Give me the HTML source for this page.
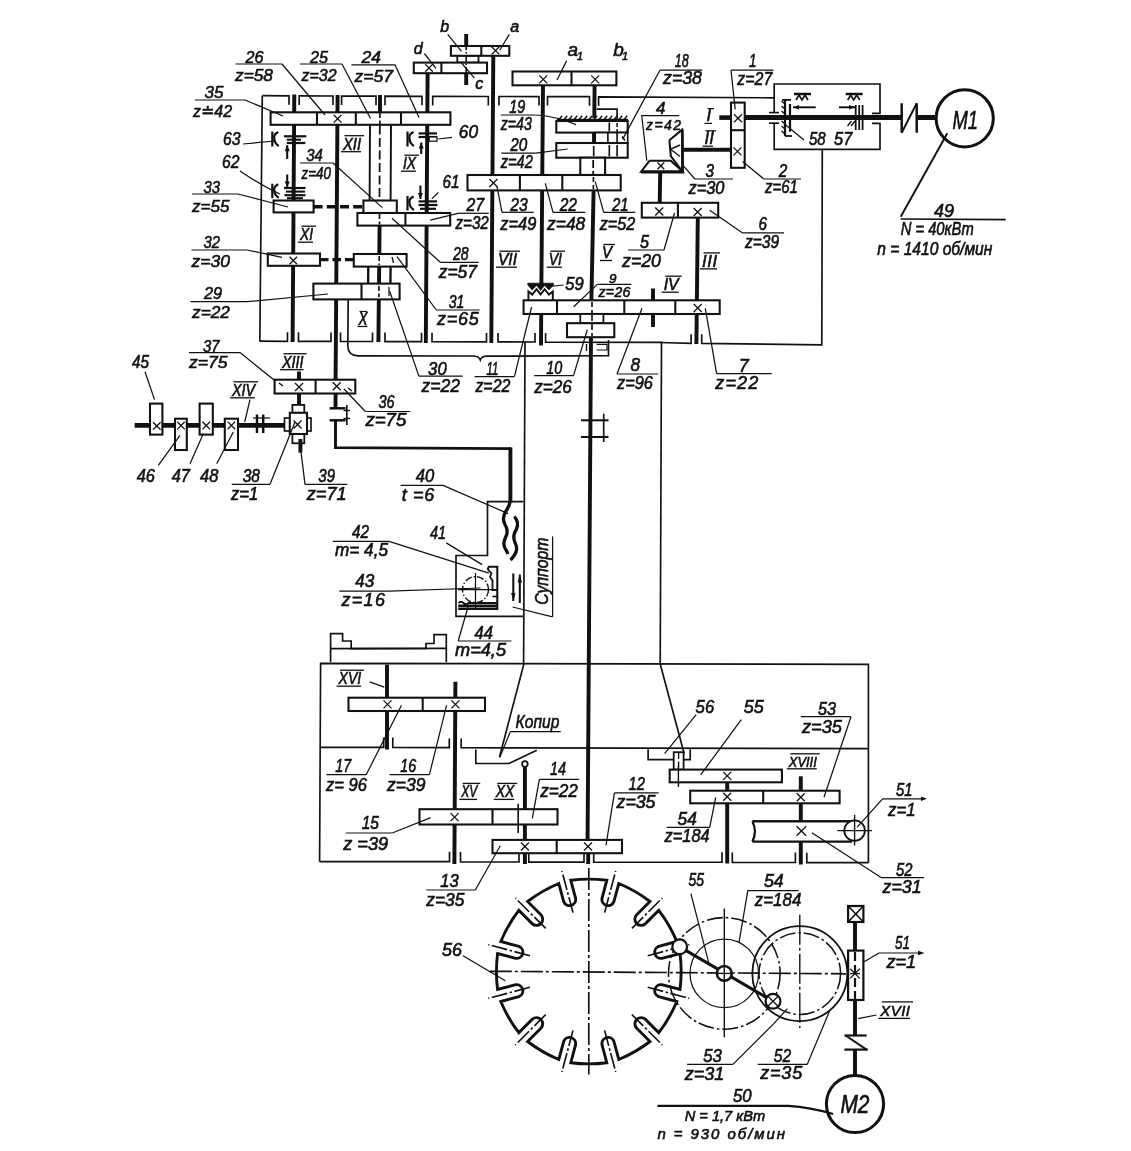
<!DOCTYPE html>
<html lang="ru"><head><meta charset="utf-8"><title>Кинематическая схема</title>
<style>
html,body{margin:0;padding:0;background:#fff;}
svg{display:block;filter:grayscale(1);}
svg text{font-family:"Liberation Sans","DejaVu Sans",sans-serif;font-style:italic;fill:#111;stroke:#111;stroke-width:0.6px;}
</style></head><body>
<svg width="1131" height="1151" viewBox="0 0 1131 1151" stroke="#111" fill="none" stroke-linecap="butt" font-size="16">
<rect x="0" y="0" width="1131" height="1151" fill="#fff" stroke="none"/>
<line x1="262.3" y1="95.7" x2="259.8" y2="341.5" stroke-width="1.66"/>
<polyline points="262.3,95.7 289,95.8 289,104.8" stroke-width="1.66" fill="none"/>
<polyline points="299.2,104.9 299.2,95.9 333,96 333,105" stroke-width="1.66" fill="none"/>
<polyline points="341.6,105 341.6,96 376,96.2 376,105.2" stroke-width="1.66" fill="none"/>
<polyline points="385,105.2 385,96.2 422,96.3 422,105.3" stroke-width="1.66" fill="none"/>
<polyline points="432.7,105.4 432.7,96.4 488.3,96.5 488.3,105.5" stroke-width="1.66" fill="none"/>
<polyline points="499,105.5 499,96.5 539,96.6 539,105.6" stroke-width="1.66" fill="none"/>
<polyline points="547.5,105.6 547.5,96.6 589.5,96.7 589.5,105.7" stroke-width="1.66" fill="none"/>
<polyline points="259.8,341.2 287.5,341.3 287.5,332.3" stroke-width="1.66" fill="none"/>
<polyline points="298.5,332.3 298.5,341.3 331,341.4 331,332.4" stroke-width="1.66" fill="none"/>
<polyline points="340.5,332.4 340.5,341.4 372.5,341.5 372.5,332.5" stroke-width="1.66" fill="none"/>
<polyline points="385,332.6 385,341.6 421.5,341.7 421.5,332.7" stroke-width="1.66" fill="none"/>
<polyline points="432,332.7 432,341.7 486.5,341.9 486.5,332.9" stroke-width="1.66" fill="none"/>
<polyline points="498,332.9 498,341.9 535,342.0 535,333.0" stroke-width="1.66" fill="none"/>
<polyline points="545.6,333.1 545.6,342.1 662,342.4" stroke-width="1.66" fill="none"/>
<line x1="294.3" y1="94.5" x2="292.6" y2="342" stroke-width="3.92"/>
<line x1="337.6" y1="95" x2="335.6" y2="379" stroke-width="3.92"/>
<line x1="380.0" y1="95" x2="380.0" y2="113" stroke-width="3.92"/>
<line x1="379.6" y1="225" x2="378.4" y2="342" stroke-width="3.92"/>
<line x1="427.6" y1="74" x2="425.8" y2="343" stroke-width="3.92"/>
<line x1="493.3" y1="56" x2="491.3" y2="343" stroke-width="3.92"/>
<line x1="370" y1="124" x2="369.6" y2="201" stroke-width="1.93"/>
<line x1="391" y1="124" x2="390.6" y2="201" stroke-width="1.93"/>
<line x1="379.9" y1="113" x2="379.3" y2="232" stroke-width="1.79" stroke-dasharray="9 3.5"/>
<line x1="368.3" y1="266" x2="368.1" y2="285" stroke-width="2.35"/>
<line x1="390.6" y1="266" x2="390.4" y2="285" stroke-width="2.35"/>
<rect x="270.6" y="112.3" width="179.8" height="12.5" stroke-width="2.07" fill="#fff"/>
<line x1="317" y1="112.3" x2="317" y2="124.8" stroke-width="2.07"/>
<line x1="355.8" y1="112.3" x2="355.8" y2="124.8" stroke-width="2.07"/>
<line x1="401" y1="112.3" x2="401" y2="124.8" stroke-width="2.07"/>
<line x1="333.8" y1="115.0" x2="341.40000000000003" y2="122.6" stroke-width="1.31"/>
<line x1="333.8" y1="122.6" x2="341.40000000000003" y2="115.0" stroke-width="1.31"/>
<line x1="379.9" y1="113" x2="379.9" y2="124" stroke-width="1.66" stroke-dasharray="5 2.5"/>
<rect x="273.6" y="200.5" width="40.0" height="11.9" stroke-width="2.07" fill="#fff"/>
<rect x="363.4" y="200.5" width="33.4" height="12.5" stroke-width="2.07" fill="#fff"/>
<rect x="357.4" y="213" width="92.8" height="12.6" stroke-width="2.07" fill="#fff"/>
<line x1="405.4" y1="213" x2="405.4" y2="225.6" stroke-width="2.07"/>
<line x1="379.5" y1="214" x2="379.5" y2="224.5" stroke-width="1.66" stroke-dasharray="5 2.5"/>
<rect x="267.8" y="253.5" width="52.2" height="12.3" stroke-width="2.07" fill="#fff"/>
<line x1="289.5" y1="256.7" x2="297.1" y2="264.3" stroke-width="1.31"/>
<line x1="289.5" y1="264.3" x2="297.1" y2="256.7" stroke-width="1.31"/>
<rect x="353.8" y="254" width="52.8" height="12.6" stroke-width="2.07" fill="#fff"/>
<line x1="379.2" y1="256" x2="379.2" y2="265" stroke-width="1.66" stroke-dasharray="5 2.5"/>
<line x1="392" y1="257" x2="393.5" y2="263" stroke-width="1.24"/>
<rect x="313.4" y="283.6" width="86.2" height="15.8" stroke-width="2.07" fill="#fff"/>
<line x1="361.5" y1="283.6" x2="361.5" y2="299.4" stroke-width="2.07"/>
<line x1="378.9" y1="286" x2="378.9" y2="297" stroke-width="1.66" stroke-dasharray="5 2.5"/>
<line x1="389" y1="287" x2="389" y2="296" stroke-width="1.24"/>
<line x1="313.6" y1="206.7" x2="363.4" y2="206.7" stroke-width="3.36" stroke-dasharray="9 4.2"/>
<line x1="320" y1="259.6" x2="353.8" y2="259.6" stroke-width="3.36" stroke-dasharray="8.5 4"/>
<line x1="272.3" y1="131.5" x2="272.3" y2="146.5" stroke-width="2.21"/>
<path d="M278.3,132.0 Q273.3,134.5 274.3,138.25 Q274.3,143.5 278.8,146.0" stroke-width="2.21" fill="none"/>
<line x1="284" y1="136.3" x2="306.3" y2="136.3" stroke-width="2.21"/>
<line x1="286.8" y1="139.7" x2="301" y2="139.7" stroke-width="2.07"/>
<line x1="286.8" y1="143" x2="305.4" y2="143" stroke-width="2.21"/>
<line x1="287.2" y1="159" x2="287.2" y2="145.3" stroke-width="2.07"/>
<polygon points="287.2,145.3 284.7,151.3 289.7,151.3" fill="#111" stroke="none"/>
<line x1="272.3" y1="183.7" x2="272.3" y2="198.2" stroke-width="2.21"/>
<path d="M278.3,184.2 Q273.3,186.7 274.3,190.225 Q274.3,195.2 278.8,197.7" stroke-width="2.21" fill="none"/>
<line x1="284" y1="188" x2="305.5" y2="188" stroke-width="2.21"/>
<line x1="286" y1="191.6" x2="305" y2="191.6" stroke-width="2.07"/>
<line x1="284.5" y1="195.2" x2="305.5" y2="195.2" stroke-width="2.21"/>
<line x1="287" y1="198.2" x2="303" y2="198.2" stroke-width="2.07"/>
<line x1="287.2" y1="174.5" x2="287.2" y2="187.4" stroke-width="2.07"/>
<polygon points="287.2,187.4 284.7,181.4 289.7,181.4" fill="#111" stroke="none"/>
<line x1="407.5" y1="131.5" x2="407.5" y2="146.5" stroke-width="2.21"/>
<path d="M413.5,132.0 Q408.5,134.5 409.5,138.25 Q409.5,143.5 414,146.0" stroke-width="2.21" fill="none"/>
<line x1="418.6" y1="133.4" x2="437" y2="133.4" stroke-width="2.21"/>
<line x1="418.6" y1="137" x2="437" y2="137" stroke-width="2.21"/>
<rect x="429.2" y="137" width="7.8" height="4.2" stroke-width="1.24" fill="#fff"/>
<line x1="421.2" y1="154" x2="421.2" y2="142.5" stroke-width="2.07"/>
<polygon points="421.2,142.5 418.7,148.5 423.7,148.5" fill="#111" stroke="none"/>
<line x1="407.5" y1="196" x2="407.5" y2="210.5" stroke-width="2.21"/>
<path d="M413.5,196.5 Q408.5,199 409.5,202.525 Q409.5,207.5 414,210.0" stroke-width="2.21" fill="none"/>
<line x1="418.6" y1="201.4" x2="437" y2="201.4" stroke-width="2.21"/>
<line x1="418.6" y1="205" x2="437.5" y2="205" stroke-width="2.21"/>
<line x1="420" y1="208.8" x2="436" y2="208.8" stroke-width="2.21"/>
<line x1="420.4" y1="185.5" x2="420.4" y2="199" stroke-width="2.07"/>
<polygon points="420.4,199 417.9,193 422.9,193" fill="#111" stroke="none"/>
<path d="M348.2,299.5 L347.8,346 Q348,355.6 358,355.8 L474,356 Q479,356.3 480.3,360 Q481.5,356.3 487,356.2 L608.5,355.6 L608.5,340" stroke-width="1.66" fill="none"/>
<text x="245.5" y="62.5" textLength="18" lengthAdjust="spacingAndGlyphs" font-size="17">26</text>
<text x="235" y="81" textLength="38" lengthAdjust="spacingAndGlyphs" font-size="17">z=58</text>
<line x1="235.5" y1="64" x2="282" y2="64" stroke-width="1.24"/>
<polyline points="282,64 325,115" stroke-width="1.24" fill="none"/>
<text x="310" y="62.5" textLength="18" lengthAdjust="spacingAndGlyphs" font-size="17">25</text>
<text x="301.5" y="81" textLength="35" lengthAdjust="spacingAndGlyphs" font-size="17">z=32</text>
<line x1="300" y1="64" x2="342" y2="64" stroke-width="1.24"/>
<polyline points="342,64 370.5,118.5" stroke-width="1.24" fill="none"/>
<text x="361.5" y="63" textLength="19.5" lengthAdjust="spacingAndGlyphs" font-size="17">24</text>
<text x="354.5" y="81.5" textLength="38.5" lengthAdjust="spacingAndGlyphs" font-size="17">z=57</text>
<line x1="351.5" y1="64.8" x2="395" y2="64.8" stroke-width="1.24"/>
<polyline points="395,64.8 419,117.5" stroke-width="1.24" fill="none"/>
<text x="204.5" y="98" textLength="19" lengthAdjust="spacingAndGlyphs" font-size="17">35</text>
<text x="193" y="117" textLength="39" lengthAdjust="spacingAndGlyphs" font-size="17">z≐42</text>
<line x1="195" y1="100" x2="245" y2="100" stroke-width="1.24"/>
<polyline points="245,100 283,116" stroke-width="1.24" fill="none"/>
<text x="223" y="145.2" textLength="17.5" lengthAdjust="spacingAndGlyphs" font-size="19">63</text>
<line x1="243" y1="144" x2="275" y2="141" stroke-width="1.24"/>
<text x="222" y="168.2" textLength="17.5" lengthAdjust="spacingAndGlyphs" font-size="19">62</text>
<path d="M240,171 Q262,186 280,194" stroke-width="1.24" fill="none"/>
<text x="306.3" y="161" textLength="16.5" lengthAdjust="spacingAndGlyphs" font-size="17">34</text>
<text x="301.5" y="178.6" textLength="29.5" lengthAdjust="spacingAndGlyphs" font-size="17">z=40</text>
<line x1="300" y1="163" x2="333" y2="163" stroke-width="1.24"/>
<polyline points="333,163 382.3,207.6" stroke-width="1.24" fill="none"/>
<text x="203.5" y="192.5" textLength="16.5" lengthAdjust="spacingAndGlyphs" font-size="17">33</text>
<text x="192" y="211.5" textLength="37.5" lengthAdjust="spacingAndGlyphs" font-size="17">z=55</text>
<line x1="192" y1="194" x2="238" y2="194" stroke-width="1.24"/>
<polyline points="238,194 288,207" stroke-width="1.24" fill="none"/>
<text x="203.5" y="248" textLength="16.5" lengthAdjust="spacingAndGlyphs" font-size="17">32</text>
<text x="191.5" y="266.5" textLength="38.5" lengthAdjust="spacingAndGlyphs" font-size="17">z=30</text>
<line x1="191.5" y1="250" x2="247" y2="250" stroke-width="1.24"/>
<polyline points="247,250 282,257.3" stroke-width="1.24" fill="none"/>
<text x="204" y="298.5" textLength="18" lengthAdjust="spacingAndGlyphs" font-size="17">29</text>
<text x="192" y="318" textLength="38" lengthAdjust="spacingAndGlyphs" font-size="17">z=22</text>
<line x1="190.5" y1="301.7" x2="247" y2="301.7" stroke-width="1.24"/>
<polyline points="247,301.7 328,294" stroke-width="1.24" fill="none"/>
<text x="203" y="351.5" textLength="16.5" lengthAdjust="spacingAndGlyphs" font-size="17">37</text>
<text x="189" y="368" textLength="38.5" lengthAdjust="spacingAndGlyphs" font-size="17">z=75</text>
<line x1="189" y1="352.6" x2="240" y2="352.6" stroke-width="1.24"/>
<polyline points="240,352.6 281.8,386.3" stroke-width="1.24" fill="none"/>
<text x="343" y="149.5" textLength="18" lengthAdjust="spacingAndGlyphs" font-size="16.5">XII</text>
<line x1="344.5" y1="135.7" x2="364" y2="135.7" stroke-width="1.31"/>
<line x1="341" y1="151.7" x2="361" y2="151.7" stroke-width="1.31"/>
<text x="403" y="169" textLength="13" lengthAdjust="spacingAndGlyphs" font-size="16.5">IX</text>
<line x1="404.5" y1="155.2" x2="419" y2="155.2" stroke-width="1.31"/>
<line x1="401" y1="171.2" x2="416" y2="171.2" stroke-width="1.31"/>
<text x="300" y="240" textLength="13" lengthAdjust="spacingAndGlyphs" font-size="16.5">XI</text>
<line x1="301.5" y1="226.2" x2="316" y2="226.2" stroke-width="1.31"/>
<line x1="298" y1="242.2" x2="313" y2="242.2" stroke-width="1.31"/>
<text x="282" y="367.5" textLength="21.5" lengthAdjust="spacingAndGlyphs" font-size="16.5">XIII</text>
<line x1="283.5" y1="353.7" x2="306.5" y2="353.7" stroke-width="1.31"/>
<line x1="280" y1="369.7" x2="303.5" y2="369.7" stroke-width="1.31"/>
<text x="358.5" y="325" textLength="9" lengthAdjust="spacingAndGlyphs" font-size="18">X</text>
<line x1="359.5" y1="311.5" x2="367" y2="311.5" stroke-width="1.24"/>
<line x1="357.5" y1="326.5" x2="367.5" y2="326.5" stroke-width="1.24"/>
<polyline points="598.6,106 598.6,96.8 774,97.8" stroke-width="1.66" fill="none"/>
<line x1="466.2" y1="34" x2="466.2" y2="46" stroke-width="3.92"/>
<line x1="466.2" y1="73" x2="466.2" y2="85" stroke-width="3.92"/>
<line x1="466.2" y1="46" x2="466.2" y2="73" stroke-width="1.66" stroke-dasharray="6 2 1.5 2"/>
<line x1="543.0" y1="85" x2="541.4" y2="284" stroke-width="3.92"/>
<line x1="541.2" y1="314" x2="541" y2="345.5" stroke-width="3.92"/>
<line x1="594.6" y1="85" x2="594.3" y2="118" stroke-width="3.92"/>
<line x1="593.6" y1="190" x2="591.4" y2="300" stroke-width="3.92"/>
<rect x="457.3" y="55.6" width="21.2" height="7.0" stroke-width="1.79" fill="#fff"/>
<rect x="450.9" y="46" width="58.4" height="9.8" stroke-width="2.07" fill="#fff"/>
<line x1="481.3" y1="46" x2="481.3" y2="55.8" stroke-width="2.07"/>
<line x1="491.7" y1="46.800000000000004" x2="499.3" y2="54.4" stroke-width="1.31"/>
<line x1="491.7" y1="54.4" x2="499.3" y2="46.800000000000004" stroke-width="1.31"/>
<rect x="413.8" y="62.6" width="73.2" height="10.6" stroke-width="2.07" fill="#fff"/>
<line x1="441.4" y1="62.6" x2="441.4" y2="73.2" stroke-width="2.07"/>
<line x1="425.2" y1="64.10000000000001" x2="432.8" y2="71.7" stroke-width="1.31"/>
<line x1="425.2" y1="71.7" x2="432.8" y2="64.10000000000001" stroke-width="1.31"/>
<line x1="466.2" y1="44" x2="466.2" y2="75" stroke-width="1.66" stroke-dasharray="6 2 1.5 2"/>
<rect x="512.5" y="71.5" width="103.9" height="13.8" stroke-width="2.07" fill="#fff"/>
<line x1="571.5" y1="71.5" x2="571.5" y2="85.3" stroke-width="2.07"/>
<line x1="539.2" y1="75.4" x2="547.2" y2="83.4" stroke-width="1.31"/>
<line x1="539.2" y1="83.4" x2="547.2" y2="75.4" stroke-width="1.31"/>
<line x1="591.2" y1="75.4" x2="599.2" y2="83.4" stroke-width="1.31"/>
<line x1="591.2" y1="83.4" x2="599.2" y2="75.4" stroke-width="1.31"/>
<polyline points="596.6,109.1 617.1,109.1 617.1,119.7" stroke-width="1.66" fill="none"/>
<line x1="557" y1="119.7" x2="628" y2="119.7" stroke-width="1.79"/>
<line x1="559" y1="119.5" x2="562.2" y2="115.8" stroke-width="1.38"/>
<line x1="564" y1="119.5" x2="567.2" y2="115.8" stroke-width="1.38"/>
<line x1="569" y1="119.5" x2="572.2" y2="115.8" stroke-width="1.38"/>
<line x1="574" y1="119.5" x2="577.2" y2="115.8" stroke-width="1.38"/>
<line x1="579" y1="119.5" x2="582.2" y2="115.8" stroke-width="1.38"/>
<line x1="584" y1="119.5" x2="587.2" y2="115.8" stroke-width="1.38"/>
<line x1="589" y1="119.5" x2="592.2" y2="115.8" stroke-width="1.38"/>
<line x1="594" y1="119.5" x2="597.2" y2="115.8" stroke-width="1.38"/>
<line x1="599" y1="119.5" x2="602.2" y2="115.8" stroke-width="1.38"/>
<line x1="604" y1="119.5" x2="607.2" y2="115.8" stroke-width="1.38"/>
<line x1="609" y1="119.5" x2="612.2" y2="115.8" stroke-width="1.38"/>
<line x1="614" y1="119.5" x2="617.2" y2="115.8" stroke-width="1.38"/>
<line x1="619" y1="119.5" x2="622.2" y2="115.8" stroke-width="1.38"/>
<line x1="624" y1="119.5" x2="627.2" y2="115.8" stroke-width="1.38"/>
<rect x="556.3" y="121" width="71.4" height="11.6" stroke-width="2.07" fill="#fff"/>
<rect x="595.2" y="132.6" width="32.5" height="10.4" stroke-width="1.66" fill="#fff"/>
<rect x="556.3" y="143" width="71.4" height="14.7" stroke-width="2.07" fill="#fff"/>
<line x1="607.9" y1="132.6" x2="607.9" y2="143" stroke-width="1.66"/>
<line x1="617.1" y1="132.6" x2="617.1" y2="143" stroke-width="1.66"/>
<line x1="609.3" y1="122.5" x2="609.3" y2="131.5" stroke-width="1.66"/>
<line x1="617.1" y1="123" x2="617.1" y2="132" stroke-width="1.52" stroke-dasharray="4 2"/>
<line x1="593.7" y1="146" x2="593.7" y2="156" stroke-width="1.66"/>
<line x1="609.3" y1="145" x2="609.3" y2="156.5" stroke-width="1.66"/>
<line x1="617.1" y1="145" x2="617.1" y2="156.5" stroke-width="1.66"/>
<line x1="594" y1="132.6" x2="594" y2="143" stroke-width="3.92"/>
<line x1="622" y1="136.5" x2="625" y2="140.5" stroke-width="1.38"/>
<rect x="580.3" y="157.7" width="24.8" height="17.3" stroke-width="2.07" fill="#fff"/>
<line x1="593.2" y1="160" x2="593.2" y2="174" stroke-width="1.79" stroke-dasharray="8 3"/>
<rect x="467.5" y="175" width="153.2" height="15.4" stroke-width="2.07" fill="#fff"/>
<line x1="519.9" y1="175" x2="519.9" y2="190.4" stroke-width="2.07"/>
<line x1="562.3" y1="175" x2="562.3" y2="190.4" stroke-width="2.07"/>
<line x1="489.4" y1="179.0" x2="497.4" y2="187.0" stroke-width="1.31"/>
<line x1="489.4" y1="187.0" x2="497.4" y2="179.0" stroke-width="1.31"/>
<line x1="593.4" y1="177" x2="593.4" y2="189" stroke-width="1.66" stroke-dasharray="5 3"/>
<polyline points="669.4,140.2 682.1,129.6 682.5,171.5 670.8,156 669.4,140.2" stroke-width="2.07" fill="#fff"/>
<line x1="682.3" y1="129.6" x2="682.6" y2="171.5" stroke-width="2.76"/>
<line x1="671" y1="149" x2="680" y2="145" stroke-width="1.38"/>
<line x1="671" y1="149.5" x2="680" y2="156.5" stroke-width="1.38"/>
<polyline points="649.6,160.7 670.8,160.7 682.5,171.6 641.1,171.6 649.6,160.7" stroke-width="2.07" fill="#fff"/>
<line x1="641.1" y1="172" x2="682.5" y2="172" stroke-width="3.04"/>
<line x1="657.5" y1="162.5" x2="664.3" y2="169.3" stroke-width="1.31"/>
<line x1="657.5" y1="169.3" x2="664.3" y2="162.5" stroke-width="1.31"/>
<line x1="660.2" y1="172.7" x2="659.7" y2="203" stroke-width="3.92"/>
<rect x="641.8" y="202.8" width="76.4" height="14.8" stroke-width="2.07" fill="#fff"/>
<line x1="677.9" y1="202.8" x2="677.9" y2="217.6" stroke-width="2.07"/>
<line x1="655.2" y1="207.5" x2="663.2" y2="215.5" stroke-width="1.31"/>
<line x1="655.2" y1="215.5" x2="663.2" y2="207.5" stroke-width="1.31"/>
<line x1="693.6" y1="208.0" x2="701.6" y2="216.0" stroke-width="1.31"/>
<line x1="693.6" y1="216.0" x2="701.6" y2="208.0" stroke-width="1.31"/>
<line x1="697.8" y1="217.6" x2="696.4" y2="344" stroke-width="3.92"/>
<line x1="719.3" y1="117.6" x2="731" y2="117.6" stroke-width="4.59"/>
<line x1="683.2" y1="149.8" x2="731" y2="149.8" stroke-width="3.92"/>
<rect x="731" y="102.6" width="13.7" height="65.2" stroke-width="2.07" fill="#fff"/>
<line x1="731" y1="130.2" x2="744.7" y2="130.2" stroke-width="2.07"/>
<line x1="734.0" y1="114.3" x2="742.0" y2="122.3" stroke-width="1.31"/>
<line x1="734.0" y1="122.3" x2="742.0" y2="114.3" stroke-width="1.31"/>
<line x1="733.5" y1="147.4" x2="741.5" y2="155.4" stroke-width="1.31"/>
<line x1="733.5" y1="155.4" x2="741.5" y2="147.4" stroke-width="1.31"/>
<polygon points="527.8,283.2 553.4,283.2 553.4,285 548.9,290 544.7,285.2 540.6,290.4 536.5,285.2 532.3,290 527.8,285" fill="#111" stroke="#111" stroke-width="0.8" stroke-linejoin="round"/>
<polyline points="528.4,300 528.4,291.5 532.3,294.6 536.5,289.2 540.6,294.4 544.7,289.2 548.9,294.6 552.8,291.5 552.8,300" stroke-width="1.93" fill="none"/>
<line x1="653" y1="288.5" x2="653" y2="327" stroke-width="3.92"/>
<rect x="523.6" y="300.3" width="196.1" height="13.7" stroke-width="2.07" fill="#fff"/>
<line x1="557" y1="300.3" x2="557" y2="314" stroke-width="2.07"/>
<line x1="624.3" y1="300.3" x2="624.3" y2="314" stroke-width="2.07"/>
<line x1="675.3" y1="300.3" x2="675.3" y2="314" stroke-width="2.07"/>
<line x1="693.7" y1="304.0" x2="701.7" y2="312.0" stroke-width="1.31"/>
<line x1="693.7" y1="312.0" x2="701.7" y2="304.0" stroke-width="1.31"/>
<line x1="592" y1="302" x2="592" y2="313" stroke-width="1.66" stroke-dasharray="5 3"/>
<rect x="580.3" y="314" width="23.1" height="9.2" stroke-width="1.79" fill="#fff"/>
<rect x="567" y="323.2" width="47.3" height="14.0" stroke-width="2.07" fill="#fff"/>
<line x1="592" y1="315" x2="592" y2="336" stroke-width="1.66" stroke-dasharray="6 3"/>
<line x1="591" y1="337.2" x2="587.5" y2="850" stroke-width="3.92"/>
<polyline points="596.6,344.3 607,344.3 607,350 596.6,350" stroke-width="1.24" fill="none"/>
<line x1="586.5" y1="344" x2="586.5" y2="351" stroke-width="1.38"/>
<polyline points="660,342.5 691.1,343.3 691.1,334.3" stroke-width="1.66" fill="none"/>
<polyline points="701.7,334.3 701.7,343.4 821.8,344.8 822.3,149" stroke-width="1.66" fill="none"/>
<line x1="525" y1="342" x2="523.6" y2="664" stroke-width="1.66"/>
<line x1="661.5" y1="343" x2="660.2" y2="664" stroke-width="1.66"/>
<text x="440.3" y="31.5">b</text>
<text x="510.3" y="31.5">a</text>
<text x="413.8" y="53.5">d</text>
<text x="475.3" y="88.5">c</text>
<line x1="447.7" y1="34.4" x2="461.5" y2="51.4" stroke-width="1.24"/>
<line x1="509.3" y1="34.4" x2="499.7" y2="50.3" stroke-width="1.24"/>
<line x1="424.4" y1="53.5" x2="436" y2="68.4" stroke-width="1.24"/>
<line x1="474.3" y1="77.9" x2="461.5" y2="63" stroke-width="1.24"/>
<text x="567.6" y="55.6" font-size="19">a</text>
<text x="577" y="59.5" font-size="11">1</text>
<text x="613.3" y="55.6" font-size="19">b</text>
<text x="622" y="59.5" font-size="11">1</text>
<line x1="566.6" y1="60.9" x2="557" y2="80" stroke-width="1.24"/>
<text x="509.3" y="113" textLength="16" lengthAdjust="spacingAndGlyphs" font-size="18">19</text>
<text x="500.8" y="130" textLength="31" lengthAdjust="spacingAndGlyphs" font-size="18">z=43</text>
<line x1="500.8" y1="115" x2="535.8" y2="115" stroke-width="1.24"/>
<path d="M535.8,115 Q556,116 576,124.6" stroke-width="1.24" fill="none"/>
<text x="510.3" y="151.2" textLength="17" lengthAdjust="spacingAndGlyphs" font-size="18">20</text>
<text x="500.8" y="168.2" textLength="32" lengthAdjust="spacingAndGlyphs" font-size="18">z=42</text>
<line x1="501.4" y1="153.2" x2="535.8" y2="153.2" stroke-width="1.24"/>
<polyline points="535.8,153.2 567.6,149" stroke-width="1.24" fill="none"/>
<text x="458.8" y="138.3" textLength="19.2" lengthAdjust="spacingAndGlyphs" font-size="19">60</text>
<line x1="452" y1="137.3" x2="438.2" y2="139" stroke-width="1.24"/>
<text x="442.5" y="188" textLength="17" lengthAdjust="spacingAndGlyphs" font-size="19">61</text>
<line x1="438.2" y1="192.5" x2="431.8" y2="198.9" stroke-width="1.24"/>
<text x="466.2" y="211.2" textLength="18" lengthAdjust="spacingAndGlyphs" font-size="18">27</text>
<text x="455.5" y="229.2" textLength="33.3" lengthAdjust="spacingAndGlyphs" font-size="18">z=32</text>
<line x1="458" y1="213.3" x2="488.8" y2="213.3" stroke-width="1.24"/>
<polyline points="458,213.3 430.3,220.2" stroke-width="1.24" fill="none"/>
<text x="674.7" y="67" textLength="14" lengthAdjust="spacingAndGlyphs" font-size="18">18</text>
<text x="663" y="84" textLength="39" lengthAdjust="spacingAndGlyphs" font-size="18">z=38</text>
<line x1="659.9" y1="70.2" x2="702.3" y2="70.2" stroke-width="1.24"/>
<polyline points="659.9,70.2 622.7,139.1" stroke-width="1.24" fill="none"/>
<text x="749" y="67" textLength="7.5" lengthAdjust="spacingAndGlyphs" font-size="18">1</text>
<text x="737.3" y="85" textLength="35" lengthAdjust="spacingAndGlyphs" font-size="18">z=27</text>
<line x1="731" y1="70.2" x2="773.4" y2="70.2" stroke-width="1.24"/>
<polyline points="731,70.2 735.2,109.4" stroke-width="1.24" fill="none"/>
<text x="656" y="113.5" textLength="9.5" lengthAdjust="spacingAndGlyphs" font-size="17">4</text>
<text x="646.1" y="129.6" textLength="35" lengthAdjust="spacing" font-size="14">z=42</text>
<line x1="641.1" y1="115.7" x2="679.3" y2="115.7" stroke-width="1.24"/>
<polyline points="641.8,116.2 646.8,160.7" stroke-width="1.24" fill="none"/>
<text x="706.6" y="121.3" font-size="16.5">I</text>
<line x1="704.5" y1="123.4" x2="712" y2="123.4" stroke-width="1.24"/>
<line x1="707.5" y1="108.6" x2="714" y2="108.6" stroke-width="1.24"/>
<text x="704.4" y="144.4" textLength="9.5" lengthAdjust="spacingAndGlyphs" font-size="18">II</text>
<line x1="705.5" y1="130.8" x2="716" y2="130.8" stroke-width="1.24"/>
<line x1="702.5" y1="146.2" x2="713" y2="146.2" stroke-width="1.24"/>
<text x="705.5" y="177.3" textLength="8.5" lengthAdjust="spacingAndGlyphs" font-size="18">3</text>
<text x="688.5" y="194.3" textLength="36" lengthAdjust="spacingAndGlyphs" font-size="18">z=30</text>
<line x1="694.9" y1="179" x2="733" y2="179" stroke-width="1.24"/>
<polyline points="694.9,179 683.2,165.6" stroke-width="1.24" fill="none"/>
<text x="778.7" y="177.3" textLength="8.5" lengthAdjust="spacingAndGlyphs" font-size="18">2</text>
<text x="764.9" y="193.2" textLength="33" lengthAdjust="spacingAndGlyphs" font-size="18">z=61</text>
<line x1="763.8" y1="179" x2="801" y2="179" stroke-width="1.24"/>
<polyline points="763.8,179 742.6,161.4" stroke-width="1.24" fill="none"/>
<text x="758.5" y="230.4" textLength="8.5" lengthAdjust="spacingAndGlyphs" font-size="18">6</text>
<text x="745" y="248.3" textLength="34" lengthAdjust="spacingAndGlyphs" font-size="18">z=39</text>
<line x1="742.6" y1="232.9" x2="784" y2="232.9" stroke-width="1.24"/>
<polyline points="742.6,232.9 709.7,210.2" stroke-width="1.24" fill="none"/>
<text x="612" y="210.7" textLength="16.7" lengthAdjust="spacingAndGlyphs" font-size="18">21</text>
<text x="599.7" y="230" textLength="35.6" lengthAdjust="spacingAndGlyphs" font-size="18">z=52</text>
<line x1="603.7" y1="212.3" x2="635.3" y2="212.3" stroke-width="1.24"/>
<polyline points="603.7,212.3 595.3,181.7" stroke-width="1.24" fill="none"/>
<text x="559.7" y="210.7" textLength="17.3" lengthAdjust="spacingAndGlyphs" font-size="18">22</text>
<text x="547" y="230" textLength="38.3" lengthAdjust="spacingAndGlyphs" font-size="18">z=48</text>
<line x1="553" y1="212.3" x2="585.3" y2="212.3" stroke-width="1.24"/>
<polyline points="553,212.3 545.3,183.3" stroke-width="1.24" fill="none"/>
<text x="510.3" y="210.7" textLength="17.4" lengthAdjust="spacingAndGlyphs" font-size="18">23</text>
<text x="500.3" y="230" textLength="36" lengthAdjust="spacingAndGlyphs" font-size="18">z=49</text>
<line x1="502" y1="212.3" x2="533.7" y2="212.3" stroke-width="1.24"/>
<polyline points="502,212.3 497,186.7" stroke-width="1.24" fill="none"/>
<text x="453" y="260" textLength="15.7" lengthAdjust="spacingAndGlyphs" font-size="18">28</text>
<text x="438.7" y="278.3" textLength="38.3" lengthAdjust="spacingAndGlyphs" font-size="18">z=57</text>
<line x1="440.3" y1="262.3" x2="478.7" y2="262.3" stroke-width="1.24"/>
<polyline points="440.3,262.3 392,218.3" stroke-width="1.24" fill="none"/>
<text x="448.7" y="308.3" textLength="15.6" lengthAdjust="spacingAndGlyphs" font-size="18">31</text>
<text x="437" y="325" textLength="41.7" lengthAdjust="spacing" font-size="18">z=65</text>
<line x1="436.3" y1="310" x2="479.7" y2="310" stroke-width="1.24"/>
<polyline points="436.3,310 397,256.7" stroke-width="1.24" fill="none"/>
<text x="640" y="247.5" textLength="9" lengthAdjust="spacingAndGlyphs" font-size="18">5</text>
<text x="622" y="267" textLength="39" lengthAdjust="spacingAndGlyphs" font-size="18">z=20</text>
<line x1="628" y1="250" x2="664" y2="250" stroke-width="1.24"/>
<polyline points="664,250 674.5,213" stroke-width="1.24" fill="none"/>
<text x="498" y="265" textLength="19" lengthAdjust="spacingAndGlyphs" font-size="16.5">VII</text>
<line x1="499.5" y1="251.2" x2="520" y2="251.2" stroke-width="1.31"/>
<line x1="496" y1="267.2" x2="517" y2="267.2" stroke-width="1.31"/>
<text x="548.7" y="265" textLength="13.3" lengthAdjust="spacingAndGlyphs" font-size="16.5">VI</text>
<line x1="550.2" y1="251.2" x2="565.0" y2="251.2" stroke-width="1.31"/>
<line x1="546.7" y1="267.2" x2="562.0" y2="267.2" stroke-width="1.31"/>
<text x="602" y="258.3" textLength="10" lengthAdjust="spacingAndGlyphs" font-size="16.5">V</text>
<line x1="603.5" y1="244.5" x2="615" y2="244.5" stroke-width="1.31"/>
<line x1="600" y1="260.5" x2="612" y2="260.5" stroke-width="1.31"/>
<text x="702" y="266.7" textLength="15" lengthAdjust="spacing" font-size="16.5">III</text>
<line x1="703.5" y1="252.89999999999998" x2="720" y2="252.89999999999998" stroke-width="1.31"/>
<line x1="700" y1="268.9" x2="717" y2="268.9" stroke-width="1.31"/>
<text x="663.7" y="290" textLength="15" lengthAdjust="spacingAndGlyphs" font-size="16.5">IV</text>
<line x1="665.2" y1="276.2" x2="681.7" y2="276.2" stroke-width="1.31"/>
<line x1="661.7" y1="292.2" x2="678.7" y2="292.2" stroke-width="1.31"/>
<text x="565.3" y="290" textLength="18.4" lengthAdjust="spacingAndGlyphs" font-size="18">59</text>
<line x1="563.7" y1="285" x2="547" y2="286.7" stroke-width="1.24"/>
<text x="609" y="282.5" textLength="7.5" lengthAdjust="spacingAndGlyphs" font-size="13">9</text>
<text x="598.4" y="297.3" textLength="32" lengthAdjust="spacing" font-size="14">z=26</text>
<line x1="597.3" y1="284.4" x2="631.3" y2="284.4" stroke-width="1.24"/>
<polyline points="597.3,284.4 573.7,306.7" stroke-width="1.24" fill="none"/>
<text x="428.1" y="374.8" textLength="18.6" lengthAdjust="spacingAndGlyphs" font-size="18">30</text>
<text x="421.5" y="392" textLength="38.5" lengthAdjust="spacingAndGlyphs" font-size="18">z=22</text>
<line x1="418.9" y1="376.1" x2="462.6" y2="376.1" stroke-width="1.24"/>
<polyline points="418.9,376.1 389.7,291.2" stroke-width="1.24" fill="none"/>
<text x="486.5" y="374.8" textLength="12" lengthAdjust="spacingAndGlyphs" font-size="18">11</text>
<text x="475.4" y="392" textLength="35" lengthAdjust="spacingAndGlyphs" font-size="18">z=22</text>
<line x1="474.6" y1="376.6" x2="514.4" y2="376.6" stroke-width="1.24"/>
<polyline points="514.4,376.6 531.6,307" stroke-width="1.24" fill="none"/>
<text x="546.2" y="374" textLength="16" lengthAdjust="spacingAndGlyphs" font-size="18">10</text>
<text x="534.2" y="392.5" textLength="37.7" lengthAdjust="spacingAndGlyphs" font-size="18">z=26</text>
<line x1="534.2" y1="375.6" x2="573.5" y2="375.6" stroke-width="1.24"/>
<polyline points="573.5,375.6 587.3,329.7" stroke-width="1.24" fill="none"/>
<text x="630.6" y="370.6" textLength="9.6" lengthAdjust="spacingAndGlyphs" font-size="18">8</text>
<text x="617" y="389.3" textLength="36" lengthAdjust="spacingAndGlyphs" font-size="18">z=96</text>
<line x1="617" y1="374" x2="658.2" y2="374" stroke-width="1.24"/>
<polyline points="617,374 642,308.3" stroke-width="1.24" fill="none"/>
<text x="738.7" y="371.7" textLength="10" lengthAdjust="spacingAndGlyphs" font-size="18">7</text>
<text x="715.3" y="388.7" textLength="43" lengthAdjust="spacing" font-size="18">z=22</text>
<line x1="716.6" y1="373.6" x2="771.7" y2="373.6" stroke-width="1.24"/>
<polyline points="716.6,373.6 705.3,308.3" stroke-width="1.24" fill="none"/>
<polyline points="872,113.4 880,113.4 880,84 774.2,84 774.2,112.6" stroke-width="1.66" fill="none"/>
<polyline points="872,123.4 880,123.4 880,149.3 774.2,149.3 774.2,123.2" stroke-width="1.66" fill="none"/>
<line x1="769" y1="112.6" x2="779" y2="112.6" stroke-width="1.66"/>
<line x1="769" y1="123.2" x2="779" y2="123.2" stroke-width="1.66"/>
<line x1="744.7" y1="117.6" x2="901" y2="117.5" stroke-width="5.04"/>
<line x1="917" y1="117.5" x2="936" y2="117.5" stroke-width="5.04"/>
<line x1="901.7" y1="103.3" x2="901.7" y2="132.7" stroke-width="2.48"/>
<line x1="916.7" y1="103.3" x2="916.7" y2="132.7" stroke-width="2.48"/>
<line x1="916.7" y1="103.3" x2="901.7" y2="132.7" stroke-width="1.93"/>
<circle cx="964.7" cy="118.3" r="28.6" stroke-width="3.04" fill="#fff"/>
<text x="952.5" y="128.5" textLength="25.5" lengthAdjust="spacingAndGlyphs" font-size="25">M1</text>
<line x1="785" y1="99.9" x2="785" y2="136" stroke-width="2.21"/>
<line x1="785" y1="104" x2="781.5" y2="101" stroke-width="1.38"/>
<line x1="785" y1="109" x2="781.5" y2="106" stroke-width="1.38"/>
<line x1="785" y1="114" x2="781.5" y2="111" stroke-width="1.38"/>
<line x1="785" y1="119" x2="781.5" y2="116" stroke-width="1.38"/>
<line x1="785" y1="124" x2="781.5" y2="121" stroke-width="1.38"/>
<line x1="785" y1="129" x2="781.5" y2="126" stroke-width="1.38"/>
<line x1="785" y1="134" x2="781.5" y2="131" stroke-width="1.38"/>
<line x1="782" y1="99.9" x2="791" y2="99.9" stroke-width="1.79"/>
<line x1="785" y1="136" x2="792" y2="136" stroke-width="1.79"/>
<line x1="790" y1="104" x2="790" y2="131.7" stroke-width="2.21"/>
<line x1="855.7" y1="105" x2="855.7" y2="130" stroke-width="1.79"/>
<line x1="859.2" y1="105" x2="859.2" y2="130" stroke-width="1.79"/>
<line x1="862.6" y1="105" x2="862.6" y2="130" stroke-width="1.79"/>
<line x1="851" y1="126" x2="855" y2="121" stroke-width="1.38"/>
<line x1="847.5" y1="126" x2="851.5" y2="121" stroke-width="1.38"/>
<line x1="794" y1="94" x2="811" y2="94" stroke-width="2.48"/>
<polyline points="796,100 799,95 802,100 805,95 808,100" stroke-width="1.66" fill="none"/>
<line x1="845.7" y1="94" x2="862.7" y2="94" stroke-width="2.48"/>
<polyline points="847.7,100 850.7,95 853.7,100 856.7,95 859.7,100" stroke-width="1.66" fill="none"/>
<line x1="815.7" y1="107.3" x2="793" y2="107.3" stroke-width="1.93"/>
<polygon points="793,107.3 799,105.1 799,109.5" fill="#111" stroke="none"/>
<line x1="839" y1="107.3" x2="855" y2="107.3" stroke-width="1.93"/>
<polygon points="855,107.3 849,105.1 849,109.5" fill="#111" stroke="none"/>
<text x="809" y="145" textLength="16.7" lengthAdjust="spacingAndGlyphs" font-size="18">58</text>
<text x="834" y="145" textLength="18.3" lengthAdjust="spacingAndGlyphs" font-size="18">57</text>
<line x1="804" y1="140" x2="785.7" y2="125" stroke-width="1.24"/>
<line x1="947.3" y1="133.3" x2="900.7" y2="216.7" stroke-width="1.93"/>
<line x1="900.7" y1="219" x2="1005.7" y2="219.6" stroke-width="1.66"/>
<text x="934" y="216.5" textLength="20" lengthAdjust="spacingAndGlyphs" font-size="18">49</text>
<text x="900.7" y="235" textLength="73" lengthAdjust="spacingAndGlyphs" font-size="18">N = 40кВт</text>
<text x="877.3" y="255" textLength="115" lengthAdjust="spacingAndGlyphs" font-size="18">n = 1410 об/мин</text>
<line x1="299" y1="371.5" x2="299" y2="380" stroke-width="3.92"/>
<line x1="299" y1="393.5" x2="299" y2="405" stroke-width="3.92"/>
<rect x="274.6" y="379.7" width="80.7" height="13.8" stroke-width="2.07" fill="#fff"/>
<line x1="315.6" y1="379.7" x2="315.6" y2="393.5" stroke-width="2.07"/>
<line x1="295.0" y1="383.0" x2="303.0" y2="391.0" stroke-width="1.31"/>
<line x1="295.0" y1="391.0" x2="303.0" y2="383.0" stroke-width="1.31"/>
<line x1="332.7" y1="382.3" x2="340.7" y2="390.3" stroke-width="1.31"/>
<line x1="332.7" y1="390.3" x2="340.7" y2="382.3" stroke-width="1.31"/>
<line x1="279" y1="383" x2="283" y2="386" stroke-width="1.38"/>
<line x1="348" y1="388" x2="352" y2="391" stroke-width="1.38"/>
<line x1="335.6" y1="393.5" x2="335.5" y2="408" stroke-width="3.92"/>
<line x1="329.6" y1="408.3" x2="345.5" y2="408.3" stroke-width="2.48"/>
<line x1="329.6" y1="420.3" x2="345.5" y2="420.3" stroke-width="2.48"/>
<line x1="346.8" y1="405" x2="346.8" y2="425" stroke-width="1.66"/>
<line x1="343.5" y1="410.5" x2="350" y2="410.5" stroke-width="1.38"/>
<line x1="343.5" y1="418.5" x2="350" y2="418.5" stroke-width="1.38"/>
<polyline points="335.5,420.3 335.5,447.6 511,448.6" stroke-width="2.91" fill="none" stroke-linejoin="miter"/>
<line x1="510.4" y1="447.5" x2="510.4" y2="502" stroke-width="3.92"/>
<rect x="292.4" y="404.9" width="11.9" height="7.9" stroke-width="1.79" fill="#fff"/>
<rect x="292.4" y="434" width="11.9" height="9.3" stroke-width="1.79" fill="#fff"/>
<rect x="284.5" y="418" width="5.3" height="13" stroke-width="1.66" fill="#fff"/>
<rect x="307" y="418" width="4" height="13" stroke-width="1.66" fill="#fff"/>
<line x1="300.4" y1="439" x2="300.4" y2="452.6" stroke-width="3.92"/>
<rect x="289.8" y="412.8" width="17.2" height="21.2" stroke-width="2.07" fill="#fff"/>
<line x1="293.6" y1="420.5" x2="301.6" y2="428.5" stroke-width="1.31"/>
<line x1="293.6" y1="428.5" x2="301.6" y2="420.5" stroke-width="1.31"/>
<line x1="134.6" y1="425.4" x2="284.5" y2="425.4" stroke-width="4.7"/>
<rect x="150" y="403.6" width="12.4" height="31.0" stroke-width="2.07" fill="#fff"/>
<line x1="153.0" y1="422.2" x2="160.60000000000002" y2="429.8" stroke-width="1.31"/>
<line x1="153.0" y1="429.8" x2="160.60000000000002" y2="422.2" stroke-width="1.31"/>
<rect x="175" y="418.7" width="11.8" height="31.3" stroke-width="2.07" fill="#fff"/>
<line x1="177.2" y1="421.8" x2="184.8" y2="429.40000000000003" stroke-width="1.31"/>
<line x1="177.2" y1="429.40000000000003" x2="184.8" y2="421.8" stroke-width="1.31"/>
<rect x="199.6" y="403.6" width="13.2" height="31.0" stroke-width="2.07" fill="#fff"/>
<line x1="202.39999999999998" y1="421.8" x2="210.0" y2="429.40000000000003" stroke-width="1.31"/>
<line x1="202.39999999999998" y1="429.40000000000003" x2="210.0" y2="421.8" stroke-width="1.31"/>
<rect x="224.8" y="418.7" width="13.2" height="31.3" stroke-width="2.07" fill="#fff"/>
<line x1="227.6" y1="421.59999999999997" x2="235.20000000000002" y2="429.2" stroke-width="1.31"/>
<line x1="227.6" y1="429.2" x2="235.20000000000002" y2="421.59999999999997" stroke-width="1.31"/>
<line x1="257" y1="414.5" x2="257" y2="433" stroke-width="2.48"/>
<line x1="263.2" y1="414.5" x2="263.2" y2="433" stroke-width="2.48"/>
<line x1="253" y1="418" x2="270" y2="418" stroke-width="1.24"/>
<text x="132" y="367.7" textLength="17" lengthAdjust="spacingAndGlyphs" font-size="18">45</text>
<line x1="145" y1="371.7" x2="154.5" y2="399.6" stroke-width="1.24"/>
<text x="232" y="395.6" textLength="23" lengthAdjust="spacingAndGlyphs" font-size="16.5">XIV</text>
<line x1="233.5" y1="381.8" x2="258" y2="381.8" stroke-width="1.31"/>
<line x1="230" y1="397.8" x2="255" y2="397.8" stroke-width="1.31"/>
<line x1="250" y1="399.6" x2="244.7" y2="422" stroke-width="1.24"/>
<text x="136.7" y="482" textLength="18.3" lengthAdjust="spacingAndGlyphs" font-size="18">46</text>
<line x1="158.3" y1="465.3" x2="180" y2="435.3" stroke-width="1.24"/>
<text x="171.7" y="482" textLength="18.3" lengthAdjust="spacingAndGlyphs" font-size="18">47</text>
<line x1="190" y1="463.7" x2="203.3" y2="433.7" stroke-width="1.24"/>
<text x="200" y="482" textLength="18.3" lengthAdjust="spacingAndGlyphs" font-size="18">48</text>
<line x1="216.7" y1="463.7" x2="233.3" y2="432" stroke-width="1.24"/>
<text x="242.7" y="482" textLength="17.3" lengthAdjust="spacingAndGlyphs" font-size="18">38</text>
<text x="231" y="500.3" textLength="27.3" lengthAdjust="spacingAndGlyphs" font-size="18">z=1</text>
<line x1="231.7" y1="484.3" x2="270" y2="484.3" stroke-width="1.24"/>
<polyline points="270,484.3 295,422" stroke-width="1.24" fill="none"/>
<text x="318.3" y="482" textLength="16.7" lengthAdjust="spacingAndGlyphs" font-size="18">39</text>
<text x="306.7" y="500.3" textLength="40" lengthAdjust="spacingAndGlyphs" font-size="18">z=71</text>
<line x1="305" y1="484.3" x2="347.3" y2="484.3" stroke-width="1.24"/>
<polyline points="305,484.3 300,443.7" stroke-width="1.24" fill="none"/>
<text x="378.6" y="407.5" textLength="16" lengthAdjust="spacingAndGlyphs" font-size="18">36</text>
<text x="365.4" y="426" textLength="41" lengthAdjust="spacingAndGlyphs" font-size="18">z=75</text>
<line x1="365.4" y1="411.5" x2="410.4" y2="411.5" stroke-width="1.24"/>
<polyline points="365.4,411.5 344,389" stroke-width="1.24" fill="none"/>
<polyline points="523.3,501.7 487.5,501.7 487.5,555.5 456,555.5 456,616.3 523,616.3" stroke-width="1.66" fill="none"/>
<path d="M510.3,501 Q509.5,506 506,511 Q501.5,518 505,524.5 Q509,531 505.5,537.5 Q502,544.5 506,550 Q507.5,552 507.7,554" stroke-width="3.31" fill="none"/>
<path d="M514.3,516.5 Q519.5,522.5 516.5,529 Q512,536 515,542.5 Q518.5,549 514.5,555 Q512.5,558 510.5,560" stroke-width="3.31" fill="none"/>
<line x1="513.3" y1="573.5" x2="513.3" y2="601" stroke-width="2.07"/>
<polygon points="513.3,601 511.09999999999997,593 515.5,593" fill="#111" stroke="none"/>
<line x1="519.8" y1="603" x2="519.8" y2="574.5" stroke-width="2.07"/>
<polygon points="519.8,574.5 517.5999999999999,582.5 522.0,582.5" fill="#111" stroke="none"/>
<circle cx="475.5" cy="589.6" r="13" stroke-width="1.38" fill="none" stroke-dasharray="7 2 1.5 2"/>
<line x1="458" y1="589.6" x2="493" y2="589.6" stroke-width="1.24"/>
<line x1="475.5" y1="573" x2="475.5" y2="608" stroke-width="1.24"/>
<polyline points="487.5,569 489,566.8 497.3,566.8 497.3,609 458.2,609" stroke-width="2.07" fill="none"/>
<polyline points="487.5,569 491.5,573.5 490,577 492.5,580.5 492.5,590 497,590" stroke-width="1.79" fill="none"/>
<line x1="458.2" y1="606" x2="497.3" y2="606" stroke-width="3.04"/>
<path d="M458.5,603 Q461,600.5 463.5,603 Q466,605.5 468.5,603 L497,603" stroke-width="1.79" fill="none"/>
<line x1="492.5" y1="596.5" x2="497.3" y2="596.5" stroke-width="1.66"/>
<text x="415.8" y="482.3" textLength="18.5" lengthAdjust="spacingAndGlyphs" font-size="18">40</text>
<text x="401.7" y="500.6" textLength="32.6" lengthAdjust="spacing" font-size="18">t =6</text>
<line x1="400.6" y1="485.4" x2="443" y2="485.4" stroke-width="1.24"/>
<polyline points="443,485.4 508.1,513.6" stroke-width="1.24" fill="none"/>
<text x="430" y="538.6" textLength="16.2" lengthAdjust="spacingAndGlyphs" font-size="18">41</text>
<line x1="446.2" y1="542.9" x2="482.1" y2="564.6" stroke-width="1.24"/>
<text x="352" y="538.2" textLength="17" lengthAdjust="spacingAndGlyphs" font-size="18">42</text>
<text x="335" y="556.2" textLength="53" lengthAdjust="spacingAndGlyphs" font-size="18">m= 4,5</text>
<line x1="332.9" y1="541.4" x2="389.1" y2="541.4" stroke-width="1.24"/>
<polyline points="389.1,541.4 488.9,573.2" stroke-width="1.24" fill="none"/>
<text x="355.2" y="587" textLength="19" lengthAdjust="spacingAndGlyphs" font-size="18">43</text>
<text x="341.4" y="606.1" textLength="43.5" lengthAdjust="spacing" font-size="18">z=16</text>
<line x1="339.3" y1="591.2" x2="389" y2="591.2" stroke-width="1.24"/>
<polyline points="389,591.2 480.4,588" stroke-width="1.24" fill="none"/>
<text x="474.5" y="638.5" textLength="18.5" lengthAdjust="spacingAndGlyphs" font-size="18">44</text>
<text x="455" y="656" textLength="51" lengthAdjust="spacingAndGlyphs" font-size="18">m=4,5</text>
<line x1="458.2" y1="641" x2="511.4" y2="641" stroke-width="1.24"/>
<polyline points="458.2,641 468,607" stroke-width="1.24" fill="none"/>
<text x="548.3" y="604.8" textLength="67.3" lengthAdjust="spacingAndGlyphs" transform="rotate(-90 548.3 604.8)" font-size="18">Суппорт</text>
<line x1="552.6" y1="536.4" x2="552.6" y2="616.8" stroke-width="1.24"/>
<line x1="552.6" y1="616.8" x2="512.5" y2="607" stroke-width="1.24"/>
<polyline points="330.6,662 330.6,633.7 342.6,633.7 342.6,641 351.2,641 351.2,648.6 426,648.3 426,643.5 434,643.5 434,634.7 446.3,634.7 446.3,662.3" stroke-width="1.66" fill="none"/>
<line x1="330.6" y1="648.6" x2="446.3" y2="648.3" stroke-width="1.66"/>
<line x1="581" y1="420.3" x2="608.5" y2="420.3" stroke-width="2.07"/>
<line x1="581" y1="437" x2="608.5" y2="437" stroke-width="2.07"/>
<line x1="603.7" y1="413.7" x2="603.7" y2="442" stroke-width="1.66"/>
<polyline points="319.6,861.7 320.6,663.3 868.4,664.4 868.4,862.8" stroke-width="1.66" fill="none"/>
<polyline points="320.6,747.3 383.7,747.4 383.7,737.5" stroke-width="1.66" fill="none"/>
<polyline points="392.8,737.5 392.8,747.5 449.3,747.6 449.3,738.5" stroke-width="1.66" fill="none"/>
<polyline points="461.2,738.5 461.2,747.7 868.4,748.6" stroke-width="1.66" fill="none"/>
<polyline points="319.6,861.6992 449.5,861.6992 449.5,851.6992" stroke-width="1.66" fill="none"/>
<polyline points="460.5,851.981 460.5,861.981 519,861.981 519,851.981" stroke-width="1.66" fill="none"/>
<polyline points="528.8,852.1176 528.8,862.1176 584,862.1176 584,852.1176" stroke-width="1.66" fill="none"/>
<polyline points="593.7,852.2474000000001 593.7,862.2474000000001 722,862.2474000000001 722,852.2474000000001" stroke-width="1.66" fill="none"/>
<polyline points="732.3,852.5246000000001 732.3,862.5246000000001 795.4,862.5246000000001 795.4,852.5246000000001" stroke-width="1.66" fill="none"/>
<polyline points="806.8,852.6736000000001 806.8,862.6736000000001 868.4,862.6736000000001" stroke-width="1.66" fill="none"/>
<line x1="387" y1="664.6" x2="387" y2="749.5" stroke-width="3.92"/>
<line x1="455.4" y1="681.8" x2="454.4" y2="864" stroke-width="3.92"/>
<line x1="524.9" y1="766.7" x2="524.9" y2="864" stroke-width="3.92"/>
<line x1="588.2" y1="852" x2="588.2" y2="864" stroke-width="3.92"/>
<circle cx="524.9" cy="764" r="2.8" stroke-width="1.79" fill="#fff"/>
<line x1="727.2" y1="782" x2="727.2" y2="863.5" stroke-width="3.92"/>
<line x1="800.8" y1="776.3" x2="800.8" y2="864.5" stroke-width="3.92"/>
<rect x="348.5" y="697.7" width="136.5" height="13.3" stroke-width="2.07" fill="#fff"/>
<line x1="422.7" y1="697.7" x2="422.7" y2="711" stroke-width="2.07"/>
<line x1="383.5" y1="700.4" x2="391.5" y2="708.4" stroke-width="1.31"/>
<line x1="383.5" y1="708.4" x2="391.5" y2="700.4" stroke-width="1.31"/>
<line x1="451.4" y1="700.4" x2="459.4" y2="708.4" stroke-width="1.31"/>
<line x1="451.4" y1="708.4" x2="459.4" y2="700.4" stroke-width="1.31"/>
<rect x="419.5" y="809.2" width="138.0" height="15.3" stroke-width="2.07" fill="#fff"/>
<line x1="492.5" y1="809.2" x2="492.5" y2="824.5" stroke-width="2.07"/>
<line x1="450.6" y1="813.1" x2="458.6" y2="821.1" stroke-width="1.31"/>
<line x1="450.6" y1="821.1" x2="458.6" y2="813.1" stroke-width="1.31"/>
<line x1="518.2" y1="803.8" x2="518.2" y2="833" stroke-width="1.66"/>
<rect x="492.5" y="839.9" width="129.5" height="13.3" stroke-width="2.07" fill="#fff"/>
<line x1="556.7" y1="839.9" x2="556.7" y2="853.2" stroke-width="2.07"/>
<line x1="520.9" y1="842.5" x2="528.9" y2="850.5" stroke-width="1.31"/>
<line x1="520.9" y1="850.5" x2="528.9" y2="842.5" stroke-width="1.31"/>
<line x1="584.0" y1="842.5" x2="592.0" y2="850.5" stroke-width="1.31"/>
<line x1="584.0" y1="850.5" x2="592.0" y2="842.5" stroke-width="1.31"/>
<polyline points="475.8,749.5 475.8,763.5 509,763.5 536.8,750.3" stroke-width="1.66" fill="none"/>
<line x1="524" y1="663.5" x2="499.5" y2="757" stroke-width="1.66"/>
<line x1="660.2" y1="664" x2="684.2" y2="753.7" stroke-width="1.66"/>
<polyline points="648.1,749.2 648.1,759.7 673.7,759.7" stroke-width="1.66" fill="none"/>
<polyline points="690.2,749.2 690.2,759.7 683.6,759.7" stroke-width="1.66" fill="none"/>
<rect x="673.7" y="752.2" width="9.9" height="17.4" stroke-width="1.79" fill="#fff"/>
<line x1="678.6" y1="753" x2="678.6" y2="787" stroke-width="1.38" stroke-dasharray="6 2.5"/>
<rect x="669.7" y="769.6" width="112.2" height="12.7" stroke-width="2.07" fill="#fff"/>
<line x1="723.2" y1="771.9" x2="731.2" y2="779.9" stroke-width="1.31"/>
<line x1="723.2" y1="779.9" x2="731.2" y2="771.9" stroke-width="1.31"/>
<line x1="678.4" y1="766" x2="678.4" y2="787" stroke-width="1.38"/>
<rect x="690.2" y="790.7" width="149.4" height="12.6" stroke-width="2.07" fill="#fff"/>
<line x1="763.2" y1="790.7" x2="763.2" y2="803.3" stroke-width="2.07"/>
<line x1="723.2" y1="792.8" x2="731.2" y2="800.8" stroke-width="1.31"/>
<line x1="723.2" y1="800.8" x2="731.2" y2="792.8" stroke-width="1.31"/>
<line x1="796.8" y1="793.2" x2="804.8" y2="801.2" stroke-width="1.31"/>
<line x1="796.8" y1="801.2" x2="804.8" y2="793.2" stroke-width="1.31"/>
<path d="M752.5,821.4 L852,821.4 M752.5,841.5 L852,841.5 M752.5,821.4 Q757.5,831.5 752.5,841.5" stroke-width="2.07" fill="none"/>
<path d="M752.5,821.4 L852,821.4 L852,841.5 L752.5,841.5 Q757.5,831.5 752.5,821.4 Z" fill="#fff" stroke="none"/>
<path d="M752.5,821.4 L852,821.4 M752.5,841.5 L852,841.5 M752.5,821.4 Q757.5,831.5 752.5,841.5" stroke-width="2.07" fill="none"/>
<line x1="796.6" y1="826.2" x2="806.1999999999999" y2="835.8" stroke-width="1.31"/>
<line x1="796.6" y1="835.8" x2="806.1999999999999" y2="826.2" stroke-width="1.31"/>
<circle cx="854.6" cy="830.6" r="10.3" stroke-width="1.79" fill="#fff"/>
<line x1="837.5" y1="830.6" x2="872" y2="830.6" stroke-width="1.38"/>
<line x1="854.6" y1="814.7" x2="854.6" y2="845.4" stroke-width="1.38"/>
<text x="338.6" y="684" textLength="22.5" lengthAdjust="spacingAndGlyphs" font-size="16.5">XVI</text>
<line x1="340.1" y1="670.2" x2="364.1" y2="670.2" stroke-width="1.31"/>
<line x1="336.6" y1="686.2" x2="361.1" y2="686.2" stroke-width="1.31"/>
<line x1="369.7" y1="681.8" x2="384.3" y2="687.1" stroke-width="1.24"/>
<text x="335.2" y="772" textLength="16" lengthAdjust="spacingAndGlyphs" font-size="18">17</text>
<text x="325.9" y="790.6" textLength="41" lengthAdjust="spacingAndGlyphs" font-size="18">z= 96</text>
<line x1="326.4" y1="774.7" x2="366.2" y2="774.7" stroke-width="1.24"/>
<polyline points="366.2,774.7 401.5,705.2" stroke-width="1.24" fill="none"/>
<text x="400.2" y="772" textLength="16" lengthAdjust="spacingAndGlyphs" font-size="18">16</text>
<text x="386.9" y="790.6" textLength="38.5" lengthAdjust="spacingAndGlyphs" font-size="18">z=39</text>
<line x1="389.6" y1="774.7" x2="429.4" y2="774.7" stroke-width="1.24"/>
<polyline points="429.4,774.7 446.6,705.2" stroke-width="1.24" fill="none"/>
<text x="461.2" y="797.2" textLength="16" lengthAdjust="spacingAndGlyphs" font-size="16.5">XV</text>
<line x1="462.7" y1="783.4000000000001" x2="480.2" y2="783.4000000000001" stroke-width="1.31"/>
<line x1="459.2" y1="799.4000000000001" x2="477.2" y2="799.4000000000001" stroke-width="1.31"/>
<text x="495.7" y="797.2" textLength="18.5" lengthAdjust="spacingAndGlyphs" font-size="16.5">XX</text>
<line x1="497.2" y1="783.4000000000001" x2="517.2" y2="783.4000000000001" stroke-width="1.31"/>
<line x1="493.7" y1="799.4000000000001" x2="514.2" y2="799.4000000000001" stroke-width="1.31"/>
<text x="550" y="774.7" textLength="16" lengthAdjust="spacingAndGlyphs" font-size="18">14</text>
<text x="540.2" y="797.2" textLength="37.7" lengthAdjust="spacingAndGlyphs" font-size="18">z=22</text>
<line x1="539.4" y1="779.4" x2="579.2" y2="779.4" stroke-width="1.24"/>
<polyline points="539.4,779.4 532.3,818.4" stroke-width="1.24" fill="none"/>
<text x="361.7" y="829" textLength="17.3" lengthAdjust="spacingAndGlyphs" font-size="18">15</text>
<text x="343.2" y="849.5" textLength="45" lengthAdjust="spacingAndGlyphs" font-size="18">z =39</text>
<line x1="345.8" y1="833" x2="392.2" y2="833" stroke-width="1.24"/>
<polyline points="392.2,833 430.7,817.6" stroke-width="1.24" fill="none"/>
<text x="440.3" y="887.3" textLength="18.4" lengthAdjust="spacingAndGlyphs" font-size="18">13</text>
<text x="426.3" y="905.7" textLength="38" lengthAdjust="spacingAndGlyphs" font-size="18">z=35</text>
<line x1="426.3" y1="890" x2="475.3" y2="890" stroke-width="1.24"/>
<polyline points="475.3,890 500.3,845.7" stroke-width="1.24" fill="none"/>
<text x="628.6" y="789.8" textLength="16.5" lengthAdjust="spacingAndGlyphs" font-size="18">12</text>
<text x="616.5" y="807.8" textLength="39" lengthAdjust="spacingAndGlyphs" font-size="18">z=35</text>
<line x1="614.4" y1="792.8" x2="658.6" y2="792.8" stroke-width="1.24"/>
<polyline points="614.4,792.8 606,845.4" stroke-width="1.24" fill="none"/>
<text x="515.6" y="728.2" textLength="43.7" lengthAdjust="spacingAndGlyphs" font-size="18">Копир</text>
<line x1="510.3" y1="731.7" x2="560.7" y2="731.7" stroke-width="1.24"/>
<line x1="510.3" y1="731.7" x2="499.7" y2="757.4" stroke-width="1.24"/>
<text x="695.6" y="713.1" textLength="18.6" lengthAdjust="spacingAndGlyphs" font-size="18">56</text>
<line x1="696.2" y1="714.6" x2="664.6" y2="753.7" stroke-width="1.24"/>
<text x="743.7" y="713.1" textLength="20" lengthAdjust="spacingAndGlyphs" font-size="18">55</text>
<line x1="741.3" y1="719.7" x2="700.7" y2="774.8" stroke-width="1.24"/>
<text x="817.9" y="714.8" textLength="18" lengthAdjust="spacingAndGlyphs" font-size="18">53</text>
<text x="802" y="732.7" textLength="40" lengthAdjust="spacingAndGlyphs" font-size="18">z=35</text>
<line x1="800.8" y1="716.7" x2="851" y2="716.7" stroke-width="1.24"/>
<polyline points="851,716.7 824,797.3" stroke-width="1.24" fill="none"/>
<text x="788.8" y="766.6" textLength="28" lengthAdjust="spacingAndGlyphs" font-size="14">XVIII</text>
<line x1="790.3" y1="753.8000000000001" x2="819.8" y2="753.8000000000001" stroke-width="1.31"/>
<line x1="786.8" y1="768.8000000000001" x2="816.8" y2="768.8000000000001" stroke-width="1.31"/>
<text x="677.6" y="824.6" textLength="19.2" lengthAdjust="spacingAndGlyphs" font-size="18">54</text>
<text x="664.6" y="842.4" textLength="45" lengthAdjust="spacingAndGlyphs" font-size="18">z=184</text>
<line x1="666.7" y1="827.4" x2="709.7" y2="827.4" stroke-width="1.24"/>
<polyline points="709.7,827.4 715.7,797.3" stroke-width="1.24" fill="none"/>
<text x="896.1" y="795.8" textLength="16.5" lengthAdjust="spacingAndGlyphs" font-size="18">51</text>
<text x="888" y="815.9" textLength="27.6" lengthAdjust="spacingAndGlyphs" font-size="18">z=1</text>
<line x1="882.6" y1="798.8" x2="924" y2="798.8" stroke-width="1.24"/>
<polyline points="882.6,798.8 857,827.4" stroke-width="1.24" fill="none"/>
<polygon points="927,798.8 921,796.6 921,801" fill="#111" stroke="none"/>
<text x="896.1" y="875.5" textLength="16.5" lengthAdjust="spacingAndGlyphs" font-size="18">52</text>
<text x="882.6" y="892.9" textLength="39" lengthAdjust="spacingAndGlyphs" font-size="18">z=31</text>
<line x1="881.1" y1="877.6" x2="924.1" y2="877.6" stroke-width="1.24"/>
<polyline points="881.1,877.6 811.9,832.8" stroke-width="1.24" fill="none"/>
<line x1="604.6" y1="912.6" x2="615.7" y2="871.0" stroke-width="1.66" stroke-dasharray="16 2.5 2.5 2.5"/>
<line x1="631.9" y1="928.4" x2="662.3" y2="898.0" stroke-width="1.66" stroke-dasharray="16 2.5 2.5 2.5"/>
<line x1="647.7" y1="955.7" x2="689.3" y2="944.6" stroke-width="1.66" stroke-dasharray="16 2.5 2.5 2.5"/>
<line x1="647.7" y1="987.3" x2="689.3" y2="998.4" stroke-width="1.66" stroke-dasharray="16 2.5 2.5 2.5"/>
<line x1="631.9" y1="1014.6" x2="662.3" y2="1045.0" stroke-width="1.66" stroke-dasharray="16 2.5 2.5 2.5"/>
<line x1="604.6" y1="1030.4" x2="615.7" y2="1072.0" stroke-width="1.66" stroke-dasharray="16 2.5 2.5 2.5"/>
<line x1="573.0" y1="1030.4" x2="561.9" y2="1072.0" stroke-width="1.66" stroke-dasharray="16 2.5 2.5 2.5"/>
<line x1="545.7" y1="1014.6" x2="515.3" y2="1045.0" stroke-width="1.66" stroke-dasharray="16 2.5 2.5 2.5"/>
<line x1="529.9" y1="987.3" x2="488.3" y2="998.4" stroke-width="1.66" stroke-dasharray="16 2.5 2.5 2.5"/>
<line x1="529.9" y1="955.7" x2="488.3" y2="944.6" stroke-width="1.66" stroke-dasharray="16 2.5 2.5 2.5"/>
<line x1="545.7" y1="928.4" x2="515.3" y2="898.0" stroke-width="1.66" stroke-dasharray="16 2.5 2.5 2.5"/>
<line x1="573.0" y1="912.6" x2="561.9" y2="871.0" stroke-width="1.66" stroke-dasharray="16 2.5 2.5 2.5"/>
<path d="M606.8,880.3 L602.0,898.4 A6.2,6.2 0 0 0 613.9,901.6 L618.8,883.5 A140,140 0 0 1 650.0,901.5 L636.7,914.8 A6.2,6.2 0 0 0 645.5,923.6 L658.8,910.3 A140,140 0 0 1 676.8,941.5 L658.7,946.4 A6.2,6.2 0 0 0 661.9,958.3 L680.0,953.5 A140,140 0 0 1 680.0,989.5 L661.9,984.7 A6.2,6.2 0 0 0 658.7,996.6 L676.8,1001.5 A140,140 0 0 1 658.8,1032.7 L645.5,1019.4 A6.2,6.2 0 0 0 636.7,1028.2 L650.0,1041.5 A140,140 0 0 1 618.8,1059.5 L613.9,1041.4 A6.2,6.2 0 0 0 602.0,1044.6 L606.8,1062.7 A140,140 0 0 1 570.8,1062.7 L575.6,1044.6 A6.2,6.2 0 0 0 563.7,1041.4 L558.8,1059.5 A140,140 0 0 1 527.6,1041.5 L540.9,1028.2 A6.2,6.2 0 0 0 532.1,1019.4 L518.8,1032.7 A140,140 0 0 1 500.8,1001.5 L518.9,996.6 A6.2,6.2 0 0 0 515.7,984.7 L497.6,989.5 A140,140 0 0 1 497.6,953.5 L515.7,958.3 A6.2,6.2 0 0 0 518.9,946.4 L500.8,941.5 A140,140 0 0 1 518.8,910.3 L532.1,923.6 A6.2,6.2 0 0 0 540.9,914.8 L527.6,901.5 A140,140 0 0 1 558.8,883.5 L563.7,901.6 A6.2,6.2 0 0 0 575.6,898.4 L570.8,880.3 A140,140 0 0 1 606.8,880.3 Z" stroke-width="2.9" fill="none"/>
<line x1="489.8" y1="971.3" x2="846" y2="973.8" stroke-width="1.66" stroke-dasharray="22 3 3 3"/>
<line x1="588.8" y1="868" x2="588.8" y2="1074.5" stroke-width="1.66" stroke-dasharray="22 3 3 3"/>
<circle cx="724.3" cy="973.4" r="55.8" stroke-width="1.52" fill="none" stroke-dasharray="16 3 2.5 3"/>
<circle cx="724.3" cy="973.4" r="34.3" stroke-width="1.24" fill="none"/>
<line x1="724.3" y1="908.5" x2="724.3" y2="1037.2" stroke-width="1.38"/>
<circle cx="799.8" cy="973.6" r="47.5" stroke-width="1.79" fill="none"/>
<circle cx="799.8" cy="973.6" r="40.8" stroke-width="1.52" fill="none" stroke-dasharray="16 3 2.5 3"/>
<line x1="799.8" y1="914.7" x2="799.8" y2="1028" stroke-width="1.38" stroke-dasharray="30 3 3 3"/>
<line x1="679.7" y1="946.8" x2="773" y2="1001.3" stroke-width="3.14"/>
<circle cx="679.7" cy="946.8" r="7.4" stroke-width="2.21" fill="#fff"/>
<circle cx="724.3" cy="973.4" r="7.4" stroke-width="2.48" fill="#fff"/>
<circle cx="773" cy="1001.3" r="7.4" stroke-width="2.21" fill="#fff"/>
<line x1="768.0" y1="996.3" x2="778.0" y2="1006.3" stroke-width="1.24"/>
<line x1="768.0" y1="1006.3" x2="778.0" y2="996.3" stroke-width="1.24"/>
<line x1="716" y1="973.4" x2="733" y2="973.4" stroke-width="1.38"/>
<line x1="724.3" y1="965" x2="724.3" y2="982" stroke-width="1.38"/>
<line x1="855" y1="922" x2="855" y2="951" stroke-width="3.92"/>
<line x1="855" y1="1000" x2="855" y2="1035" stroke-width="3.92"/>
<line x1="855" y1="1049.6" x2="855" y2="1076" stroke-width="3.92"/>
<rect x="848.1" y="906" width="15.3" height="16" stroke-width="2.21" fill="#fff"/>
<line x1="848.1" y1="906" x2="863.4" y2="922" stroke-width="1.66"/>
<line x1="848.1" y1="922" x2="863.4" y2="906" stroke-width="1.66"/>
<rect x="848.1" y="950.6" width="15.3" height="49.4" stroke-width="2.21" fill="#fff"/>
<line x1="855" y1="952" x2="855" y2="999" stroke-width="2.21" stroke-dasharray="9 4"/>
<line x1="850.2" y1="968.8000000000001" x2="859.8" y2="978.4" stroke-width="1.24"/>
<line x1="850.2" y1="978.4" x2="859.8" y2="968.8000000000001" stroke-width="1.24"/>
<line x1="850" y1="973.6" x2="860" y2="973.6" stroke-width="1.38"/>
<polyline points="844.4,1035.5 866.6,1035.5" stroke-width="2.21" fill="none"/>
<polyline points="844.4,1049.6 867.8,1049.6" stroke-width="2.21" fill="none"/>
<line x1="845.6" y1="1035.5" x2="866.6" y2="1049.6" stroke-width="1.93"/>
<circle cx="855" cy="1104" r="28.6" stroke-width="3.04" fill="#fff"/>
<text x="840.4" y="1113" textLength="29" lengthAdjust="spacingAndGlyphs" font-size="25">M2</text>
<text x="442" y="955.7" textLength="20" lengthAdjust="spacingAndGlyphs" font-size="18">56</text>
<line x1="463" y1="955.7" x2="505.3" y2="980.7" stroke-width="1.24"/>
<text x="688.4" y="886.2" textLength="15.5" lengthAdjust="spacingAndGlyphs" font-size="18">55</text>
<line x1="690.9" y1="893.6" x2="709.4" y2="965.4" stroke-width="1.24"/>
<text x="763.9" y="887" textLength="19.8" lengthAdjust="spacingAndGlyphs" font-size="18">54</text>
<text x="754.8" y="906" textLength="46.5" lengthAdjust="spacingAndGlyphs" font-size="18">z=184</text>
<line x1="747.3" y1="890.6" x2="798.6" y2="890.6" stroke-width="1.24"/>
<polyline points="747.8,890.6 739.1,941.9" stroke-width="1.24" fill="none"/>
<text x="895.1" y="949.3" textLength="15" lengthAdjust="spacingAndGlyphs" font-size="18">51</text>
<text x="886.4" y="967.9" textLength="29.8" lengthAdjust="spacingAndGlyphs" font-size="18">z=1</text>
<line x1="879" y1="953" x2="921" y2="953" stroke-width="1.24"/>
<polyline points="879,953 864.2,961.7" stroke-width="1.24" fill="none"/>
<polygon points="924.5,953 918,950.8 918,955.2" fill="#111" stroke="none"/>
<text x="880.3" y="1016.2" textLength="29.7" lengthAdjust="spacing" font-size="15">XVII</text>
<line x1="881.8" y1="1001.9000000000001" x2="913.0" y2="1001.9000000000001" stroke-width="1.31"/>
<line x1="878.3" y1="1018.4000000000001" x2="910.0" y2="1018.4000000000001" stroke-width="1.31"/>
<line x1="876.5" y1="1015" x2="858" y2="1018.6" stroke-width="1.24"/>
<text x="703.2" y="1062" textLength="18.6" lengthAdjust="spacingAndGlyphs" font-size="18">53</text>
<text x="684.7" y="1080" textLength="39.6" lengthAdjust="spacingAndGlyphs" font-size="18">z=31</text>
<line x1="687.1" y1="1064.4" x2="732.9" y2="1064.4" stroke-width="1.24"/>
<polyline points="732.9,1064.4 773.8,1023.6 787.4,1008.7" stroke-width="1.24" fill="none"/>
<text x="773.8" y="1062" textLength="17.3" lengthAdjust="spacingAndGlyphs" font-size="18">52</text>
<text x="760.2" y="1079.3" textLength="42" lengthAdjust="spacing" font-size="18">z=35</text>
<line x1="757.7" y1="1064.4" x2="807.2" y2="1064.4" stroke-width="1.24"/>
<polyline points="807.2,1064.4 829.5,1011.2" stroke-width="1.24" fill="none"/>
<text x="732.9" y="1101.6" textLength="18.6" lengthAdjust="spacingAndGlyphs" font-size="18">50</text>
<path d="M657.4,1105.8 L788.6,1105.8 Q810,1107 833.2,1114" stroke-width="2.21" fill="none"/>
<text x="684.7" y="1121.4" textLength="80.4" lengthAdjust="spacingAndGlyphs" font-size="15">N = 1,7 кВт</text>
<text x="657.4" y="1138.7" textLength="127.6" lengthAdjust="spacing" font-size="15">n = 930 об/мин</text>
</svg>
</body></html>
